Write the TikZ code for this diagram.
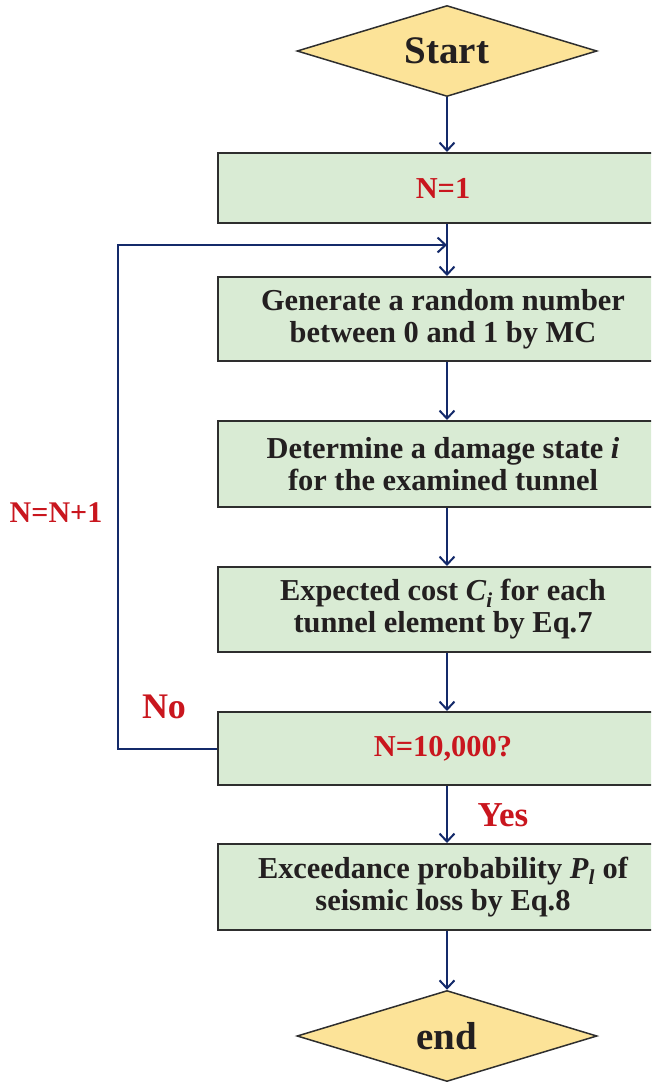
\documentclass[tikz,border=0pt]{standalone}
\usepackage{fontspec}
\setmainfont{Liberation Serif}
\usetikzlibrary{shapes.geometric,arrows.meta}
\definecolor{boxgreen}{HTML}{D9EBD4}
\definecolor{dyellow}{HTML}{FCE398}
\definecolor{tred}{HTML}{C9161E}
\definecolor{navy}{HTML}{142A6A}
\definecolor{edgegray}{HTML}{2E2E2E}
\definecolor{txt}{HTML}{231F20}
\begin{document}
\begin{tikzpicture}[x=1pt,y=-1pt,
 stepbox/.style={draw=edgegray,line width=2pt,fill=boxgreen,rectangle,minimum width=450pt,inner sep=0pt,align=center,font=\fontsize{30.4}{32}\selectfont\bfseries,text=txt},
 decision/.style={draw=edgegray,line width=1.5pt,fill=dyellow,diamond,aspect=3.26,minimum width=300pt,minimum height=91pt,inner sep=0pt,font=\fontsize{39}{42}\selectfont\bfseries,text=txt},
 flow/.style={draw=navy,line width=2pt,-{Straight Barb[length=8pt,width=15pt]}},
 rtext/.style={text=tred,font=\bfseries}]
\useasboundingbox (0,0) rectangle (651,1085);
\clip (0,0) rectangle (651,1085);
\node[decision] (start) at (447,51) {Start};
\node[stepbox,minimum height=70pt] (n1) at (443,188) {\textcolor{tred}{N=1}};
\node[stepbox,minimum height=84pt] (gen) at (443,319) {Generate a random number\\between 0 and 1 by MC};
\node[stepbox,minimum height=86pt] (det) at (443,464) {Determine a damage state \textit{i}\\for the examined tunnel};
\node[stepbox,minimum height=85pt] (exp) at (443,609.5) {Expected cost \textit{C}\textsubscript{\textit{i}} for each\\tunnel element by Eq.7};
\node[stepbox,minimum height=73pt] (n10k) at (443,748.5) {\textcolor{tred}{N=10,000?}};
\node[stepbox,minimum height=86pt] (exc) at (443,887) {Exceedance probability \textit{P}\textsubscript{\textit{l}} of\\seismic loss by Eq.8};
\node[decision] (end) at (447,1036) {end};
\coordinate (loopin) at (447,245);
\draw[flow] (start.south) -- ([xshift=4pt]n1.north);
\draw[flow] ([xshift=4pt]n1.south) -- ([xshift=4pt]gen.north);
\draw[flow] ([xshift=4pt]gen.south) -- ([xshift=4pt]det.north);
\draw[flow] ([xshift=4pt]det.south) -- ([xshift=4pt]exp.north);
\draw[flow] ([xshift=4pt]exp.south) -- ([xshift=4pt]n10k.north);
\draw[flow] ([xshift=4pt]n10k.south) -- ([xshift=4pt]exc.north);
\draw[flow] ([xshift=4pt]exc.south) -- (end.north);
\draw[flow] (n10k.west) -- ++(-99,0) |- (loopin);
\node[rtext,font=\fontsize{36}{40}\selectfont\bfseries] (no) at (164,707) {No};
\node[rtext,font=\fontsize{35}{40}\selectfont\bfseries] (yes) at (503,815) {Yes};
\node[rtext,font=\fontsize{30}{32}\selectfont\bfseries] (nn) at (56,513) {N=N+1};
\end{tikzpicture}
\end{document}
